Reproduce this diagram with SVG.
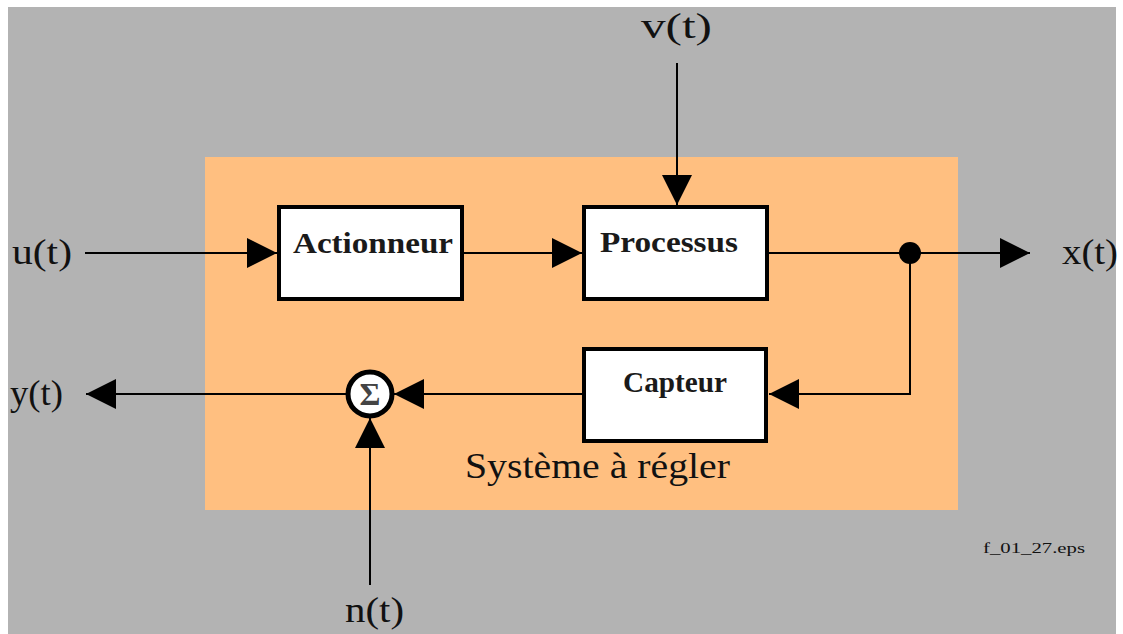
<svg xmlns="http://www.w3.org/2000/svg" width="1123" height="634" viewBox="0 0 1123 634">
  <style>
    .lbl { font-family: "Liberation Serif", "Times New Roman", serif; fill: #111; }
    .sig { font-size: 36px; }
    .blk { fill: #fff; stroke: #000; stroke-width: 4; }
    .btxt { font-family: "Liberation Serif", "Times New Roman", serif; font-weight: bold; font-size: 30px; fill: #1a1a1a; text-anchor: middle; }
    .wire { fill: none; stroke: #000; stroke-width: 2; }
  </style>
  <defs>
    <marker id="head" viewBox="0 0 30 30" markerWidth="30" markerHeight="30" refX="30" refY="15" orient="auto" markerUnits="userSpaceOnUse">
      <path d="M0,0 L30,15 L0,30 Z" fill="#000"/>
    </marker>
  </defs>

  <!-- page background and plant area -->
  <rect x="0" y="0" width="1123" height="634" fill="#fff"/>
  <rect x="8" y="7" width="1108" height="627" fill="#b3b3b3"/>
  <rect x="205" y="157" width="753" height="353" fill="#ffbf80"/>

  <!-- connectors -->
  <g id="connectors">
    <path class="wire" d="M85,253 H277" marker-end="url(#head)"/>
    <path class="wire" d="M463,253 H582" marker-end="url(#head)"/>
    <path class="wire" d="M677,63 V205" marker-end="url(#head)"/>
    <path class="wire" d="M769,253 H1030" marker-end="url(#head)"/>
    <path class="wire" d="M910,253 V394 H769" marker-end="url(#head)"/>
    <path class="wire" d="M582,394 H394" marker-end="url(#head)"/>
    <path class="wire" d="M346,394 H86" marker-end="url(#head)"/>
    <path class="wire" d="M370,585 V418" marker-end="url(#head)"/>
    <circle cx="910" cy="253" r="11" fill="#000"/>
  </g>

  <g id="actionneur">
    <rect class="blk" x="279" y="207" width="183" height="92"/>
    <text class="btxt" x="373" y="253" textLength="160" lengthAdjust="spacingAndGlyphs">Actionneur</text>
  </g>

  <g id="processus">
    <rect class="blk" x="584" y="207" width="183" height="92"/>
    <text class="btxt" x="669" y="252" textLength="138" lengthAdjust="spacingAndGlyphs">Processus</text>
  </g>

  <g id="capteur">
    <rect class="blk" x="584" y="349" width="182" height="92"/>
    <text class="btxt" x="675" y="392" textLength="104" lengthAdjust="spacingAndGlyphs">Capteur</text>
  </g>

  <g id="somme">
    <circle cx="370" cy="394" r="22" fill="#fff" stroke="#000" stroke-width="5"/>
    <text x="370" y="405" font-family="'Liberation Serif', serif" font-size="32" font-weight="bold" fill="#444" text-anchor="middle">Σ</text>
  </g>

  <!-- signal labels -->
  <g id="labels">
    <text class="lbl sig" x="12" y="264" textLength="60" lengthAdjust="spacingAndGlyphs">u(t)</text>
    <text class="lbl sig" x="641" y="38" textLength="71" lengthAdjust="spacingAndGlyphs">v(t)</text>
    <text class="lbl sig" x="1062" y="264" textLength="56" lengthAdjust="spacingAndGlyphs">x(t)</text>
    <text class="lbl sig" x="10" y="405" textLength="53" lengthAdjust="spacingAndGlyphs">y(t)</text>
    <text class="lbl sig" x="345" y="622" textLength="59" lengthAdjust="spacingAndGlyphs">n(t)</text>
    <text class="lbl sig" x="465" y="478" textLength="265" lengthAdjust="spacingAndGlyphs">Système à régler</text>
    <text class="lbl" x="983" y="553" font-size="15" textLength="102" lengthAdjust="spacingAndGlyphs">f_01_27.eps</text>
  </g>
</svg>
